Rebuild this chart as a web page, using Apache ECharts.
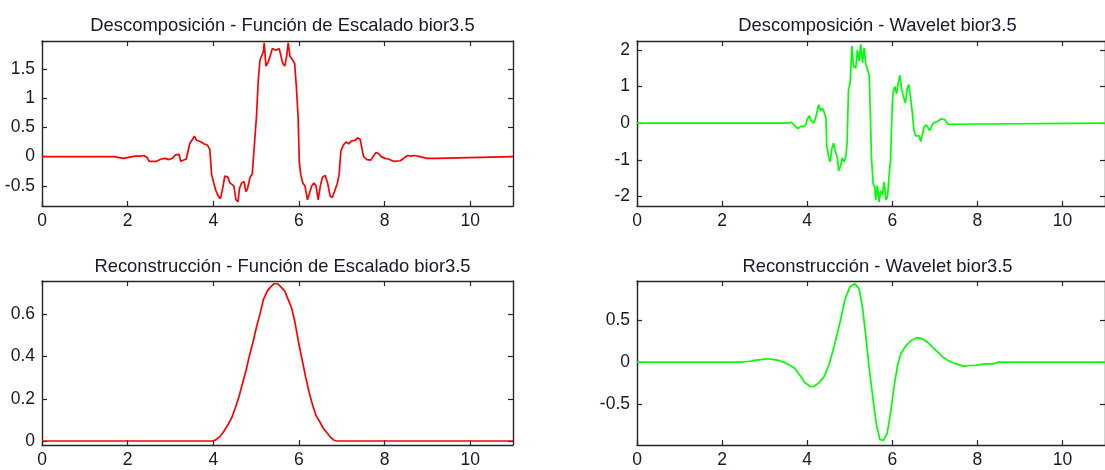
<!DOCTYPE html>
<html>
<head>
<meta charset="utf-8">
<script src="https://cdn.jsdelivr.net/npm/echarts@6/dist/echarts.min.js"></script>
<style>
  html, body { margin: 0; padding: 0; background: #ffffff; }
  #chart { width: 1105px; height: 470px; }
</style>
</head>
<body>
<div id="chart"></div>
<script>
// Panel titles
const titles = [
  'Descomposición - Función de Escalado bior3.5',
  'Descomposición - Wavelet bior3.5',
  'Reconstrucción - Función de Escalado bior3.5',
  'Reconstrucción - Wavelet bior3.5'
];

// Tick values
const xTicks = [0, 2, 4, 6, 8, 10];
const scalDecTicks = [-0.5, 0, 0.5, 1, 1.5];
const waveDecTicks = [-2, -1, 0, 1, 2];
const scalRecTicks = [0, 0.2, 0.4, 0.6];
const waveRecTicks = [-0.5, 0, 0.5];

// Decomposition scaling function [x, y]
const scalDec = [
  [0, 0], [1.68, 0], [1.69, -0.03], [1.90, -0.03], [1.93, 0.0], [2.18, 0.01], [2.22, 0.03],
  [2.30, 0.01], [2.38, 0.02], [2.46, -0.02], [2.50, -0.08], [2.67, -0.08], [2.71, -0.07],
  [2.79, -0.04], [2.87, -0.03], [2.96, -0.05], [3.04, -0.03], [3.12, 0.03], [3.16, 0.06],
  [3.20, 0.04], [3.24, -0.08], [3.28, -0.06], [3.37, -0.04], [3.45, 0.22], [3.56, 0.35],
  [3.61, 0.28], [3.70, 0.26], [3.78, 0.22], [3.86, 0.2], [3.92, 0.12], [3.96, -0.3],
  [4.01, -0.45], [4.06, -0.58], [4.12, -0.68], [4.17, -0.72], [4.23, -0.5], [4.27, -0.33],
  [4.34, -0.35], [4.39, -0.45], [4.43, -0.42], [4.48, -0.5], [4.53, -0.74], [4.58, -0.77],
  [4.61, -0.55], [4.66, -0.45], [4.72, -0.43], [4.76, -0.6], [4.80, -0.55], [4.86, -0.35],
  [4.91, -0.3], [4.95, 0.1], [5.01, 0.7], [5.05, 1.3], [5.09, 1.65], [5.13, 1.68],
  [5.17, 1.8], [5.19, 1.95], [5.23, 1.55], [5.27, 1.6], [5.32, 1.7], [5.38, 1.85],
  [5.46, 1.82], [5.54, 1.85], [5.58, 1.85], [5.62, 1.6], [5.67, 1.55], [5.71, 1.7],
  [5.75, 1.95], [5.79, 1.72], [5.83, 1.68], [5.90, 1.6], [5.94, 1.2], [5.98, 0.7],
  [6.01, -0.1], [6.04, -0.3], [6.09, -0.45], [6.14, -0.5], [6.20, -0.74], [6.24, -0.77],
  [6.30, -0.5], [6.35, -0.45], [6.40, -0.5], [6.45, -0.74], [6.50, -0.5], [6.55, -0.35],
  [6.61, -0.32], [6.67, -0.45], [6.73, -0.68], [6.78, -0.7], [6.83, -0.6], [6.90, -0.45],
  [6.94, -0.3], [6.98, 0.1], [7.04, 0.2], [7.10, 0.25], [7.16, 0.22], [7.23, 0.27],
  [7.31, 0.28], [7.37, 0.32], [7.43, 0.3], [7.47, 0.15], [7.51, 0.0], [7.59, -0.05],
  [7.68, -0.06], [7.73, 0.0], [7.80, 0.07], [7.87, 0.05], [7.92, 0.0], [8.01, -0.03],
  [8.09, -0.04], [8.21, -0.08], [8.37, -0.07], [8.46, -0.02], [8.54, 0.02], [8.62, 0.01],
  [8.70, 0.02], [8.83, 0.0], [8.99, -0.03], [9.20, -0.03], [9.24, 0], [11, 0]
];

// Decomposition wavelet [x, y]
const waveDec = [
  [0, 0], [3.56, 0], [3.62, 0.03], [3.66, 0.01], [3.72, -0.08], [3.78, -0.15], [3.82, -0.1],
  [3.86, -0.08], [3.92, -0.1], [3.97, -0.03], [4.00, 0.1], [4.05, 0.2], [4.08, 0.1],
  [4.11, 0.05], [4.15, 0.0], [4.19, 0.1], [4.23, 0.3], [4.27, 0.5], [4.31, 0.35],
  [4.36, 0.4], [4.40, 0.3], [4.44, 0.15], [4.46, -0.6], [4.50, -0.9], [4.54, -1.05],
  [4.58, -0.7], [4.62, -0.55], [4.66, -0.75], [4.71, -0.95], [4.74, -1.3], [4.79, -1.15],
  [4.82, -0.95], [4.87, -1.05], [4.91, -0.9], [4.94, -0.5], [4.97, 0.9], [5.01, 1.1],
  [5.05, 2.1], [5.09, 1.55], [5.14, 1.5], [5.18, 2.0], [5.22, 1.7], [5.26, 2.15],
  [5.30, 1.65], [5.34, 2.05], [5.38, 1.6], [5.42, 1.65], [5.46, 1.3], [5.49, 0.0],
  [5.51, -0.9], [5.55, -1.65], [5.59, -1.75], [5.61, -2.1], [5.65, -1.7], [5.69, -2.15],
  [5.73, -1.85], [5.77, -1.95], [5.81, -1.6], [5.85, -2.1], [5.89, -2.0], [5.92, -1.5],
  [5.96, -1.0], [6.00, 0.5], [6.02, 0.85], [6.06, 1.0], [6.10, 0.8], [6.14, 1.1],
  [6.18, 1.3], [6.22, 0.9], [6.27, 0.7], [6.31, 0.55], [6.35, 0.95], [6.39, 1.05],
  [6.43, 0.7], [6.47, 0.3], [6.51, -0.2], [6.55, -0.35], [6.59, -0.4], [6.63, -0.35],
  [6.67, -0.5], [6.71, -0.45], [6.75, -0.1], [6.80, -0.05], [6.84, -0.1], [6.88, -0.2],
  [6.92, -0.1], [6.96, 0.0], [7.00, -0.05], [7.07, 0.05], [7.15, 0.12], [7.23, 0.1],
  [7.27, 0.03], [7.31, -0.03], [7.35, 0], [11, 0]
];

// Reconstruction scaling function [x, y]
const scalRec = [
  [0, 0], [3.98, 0], [4.06, 0.005], [4.15, 0.02], [4.23, 0.04], [4.35, 0.08], [4.43, 0.11],
  [4.52, 0.16], [4.60, 0.21], [4.68, 0.27], [4.76, 0.33], [4.84, 0.4], [4.93, 0.47],
  [5.01, 0.54], [5.09, 0.6], [5.17, 0.67], [5.26, 0.71], [5.34, 0.73], [5.42, 0.745],
  [5.50, 0.745], [5.58, 0.73], [5.67, 0.71], [5.75, 0.67], [5.83, 0.63], [5.91, 0.56],
  [5.99, 0.47], [6.08, 0.38], [6.16, 0.3], [6.24, 0.23], [6.32, 0.17], [6.40, 0.12],
  [6.49, 0.09], [6.57, 0.06], [6.65, 0.04], [6.73, 0.02], [6.81, 0.005], [6.88, 0], [11, 0]
];

// Reconstruction wavelet [x, y]
const waveRec = [
  [0, 0], [2.42, 0], [2.43, 0.01], [2.67, 0.01], [2.75, 0.02], [2.92, 0.03], [3.08, 0.04],
  [3.21, 0.03], [3.33, 0.02], [3.45, 0.0], [3.57, -0.03], [3.70, -0.07], [3.82, -0.15],
  [3.94, -0.24], [4.07, -0.29], [4.15, -0.29], [4.27, -0.25], [4.40, -0.17], [4.52, -0.02],
  [4.64, 0.2], [4.77, 0.47], [4.89, 0.75], [5.01, 0.9], [5.12, 0.93], [5.22, 0.87],
  [5.30, 0.65], [5.38, 0.3], [5.46, -0.08], [5.55, -0.45], [5.63, -0.75], [5.71, -0.92],
  [5.79, -0.93], [5.88, -0.85], [5.96, -0.6], [6.04, -0.3], [6.12, -0.05], [6.20, 0.1],
  [6.33, 0.2], [6.45, 0.26], [6.57, 0.29], [6.70, 0.28], [6.82, 0.24], [6.94, 0.18],
  [7.07, 0.12], [7.19, 0.06], [7.31, 0.02], [7.44, -0.01], [7.56, -0.03], [7.68, -0.05],
  [7.81, -0.04], [7.93, -0.04], [8.05, -0.03], [8.22, -0.02], [8.38, -0.02], [8.50, 0], [11, 0]
];

const FONT = '"Liberation Sans", Arial, Helvetica, sans-serif';
const TEXT = '#181828';
const AXIS = '#262626';

const panels = [
  { data: scalDec, color: '#ff0000', yMin: -0.845, yMax: 1.98, yTicks: scalDecTicks, left: 42, top: 41, height: 165 },
  { data: waveDec, color: '#00ff00', yMin: -2.26, yMax: 2.24, yTicks: waveDecTicks, left: 637, top: 41, height: 165 },
  { data: scalRec, color: '#ff0000', yMin: -0.019, yMax: 0.758, yTicks: scalRecTicks, left: 42, top: 281, height: 164 },
  { data: waveRec, color: '#00ff00', yMin: -0.985, yMax: 0.964, yTicks: waveRecTicks, left: 637, top: 281, height: 164 }
];
const titleTops = [12, 12, 253, 253];
const plotWidth = 471;

const grid = [], xAxis = [], yAxis = [], series = [], title = [];

panels.forEach((p, i) => {
  grid.push({ left: p.left, top: p.top, width: plotWidth, height: p.height, containLabel: false });
  title.push({
    text: titles[i],
    left: p.left + plotWidth / 2,
    top: titleTops[i],
    textAlign: 'center',
    textStyle: { fontFamily: FONT, fontSize: 18.4, fontWeight: 'normal', color: TEXT }
  });
  // box edges sit on the grid border, never on the other axis' zero
  const line = { show: true, onZero: false, lineStyle: { color: AXIS, width: 1.4 } };
  const tickIn = (vals) => ({ show: true, inside: true, length: 5, customValues: vals, lineStyle: { color: AXIS, width: 1.2 } });
  xAxis.push({
    type: 'value', gridIndex: i, position: 'bottom', min: 0, max: 11,
    axisLine: line, axisTick: tickIn(xTicks), splitLine: { show: false },
    axisLabel: { customValues: xTicks, margin: 6, fontFamily: FONT, fontSize: 17.5, color: TEXT }
  });
  xAxis.push({
    type: 'value', gridIndex: i, position: 'top', min: 0, max: 11,
    axisLine: line, axisTick: tickIn(xTicks), splitLine: { show: false },
    axisLabel: { show: false }
  });
  yAxis.push({
    type: 'value', gridIndex: i, position: 'left', min: p.yMin, max: p.yMax,
    axisLine: line, axisTick: tickIn(p.yTicks), splitLine: { show: false },
    axisLabel: { customValues: p.yTicks, margin: 7, fontFamily: FONT, fontSize: 17.5, color: TEXT }
  });
  yAxis.push({
    type: 'value', gridIndex: i, position: 'right', min: p.yMin, max: p.yMax,
    axisLine: line, axisTick: tickIn(p.yTicks), splitLine: { show: false },
    axisLabel: { show: false }
  });
  series.push({
    type: 'line', xAxisIndex: i * 2, yAxisIndex: i * 2, data: p.data,
    showSymbol: false, symbol: 'none', clip: true,
    lineStyle: { color: p.color, width: 1.7 }
  });
});

const chart = echarts.init(document.getElementById('chart'), null, { renderer: 'canvas' });
chart.setOption({
  animation: false,
  backgroundColor: '#ffffff',
  title, grid, xAxis, yAxis, series
});
</script>
</body>
</html>
